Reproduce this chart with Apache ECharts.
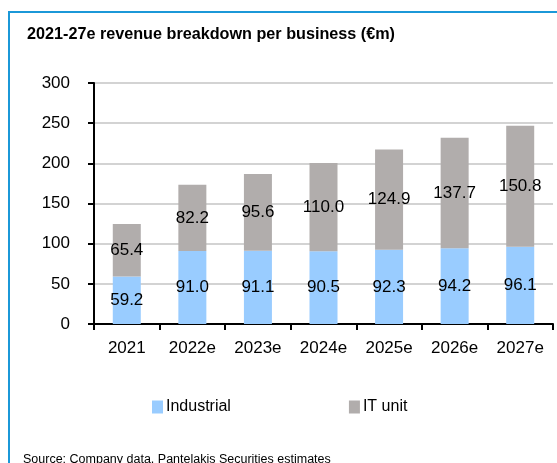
<!DOCTYPE html>
<html>
<head>
<meta charset="utf-8">
<script src="https://cdn.jsdelivr.net/npm/echarts@6/dist/echarts.min.js"></script>
<style>
html,body{margin:0;padding:0;background:#fff;}
#c{width:557px;height:463px;}
</style>
</head>
<body>
<div id="c"></div>
<script>
const categories = ['2021', '2022e', '2023e', '2024e', '2025e', '2026e', '2027e'];
const industrial = [59.2, 91.0, 91.1, 90.5, 92.3, 94.2, 96.1];
const itUnit = [65.4, 82.2, 95.6, 110.0, 124.9, 137.7, 150.8];
const yTicks = [0, 50, 100, 150, 200, 250, 300];

const FONT = "'Liberation Sans', Arial, sans-serif";
const chart = echarts.init(document.getElementById('c'), null, {renderer: 'canvas'});

const labelStyle = {
  show: true,
  position: 'inside',
  color: '#000',
  fontFamily: FONT,
  fontSize: 17,
  formatter: p => Number(p.value).toFixed(1)
};

chart.setOption({
  animation: false,
  backgroundColor: '#fff',
  title: {
    text: '2021-27e revenue breakdown per business (€m)',
    left: 22, top: 22,
    textStyle: {fontFamily: FONT, fontWeight: 'bold', fontSize: 16.2, color: '#000'}
  },
  graphic: [{
    type: 'rect',
    shape: {x: 9, y: 12, width: 700, height: 600},
    style: {fill: 'none', stroke: '#1b98d8', lineWidth: 2},
    silent: true
  }, {
    type: 'text',
    left: 23, top: 453,
    style: {text: 'Source: Company data, Pantelakis Securities estimates', fontFamily: FONT, fontSize: 12.5, fill: '#000'}
  }],
  legend: {
    data: ['Industrial', 'IT unit'],
    left: 147, top: 394,
    itemWidth: 11, itemHeight: 13,
    itemGap: 118,
    icon: 'rect',
    textStyle: {fontFamily: FONT, fontSize: 16, color: '#000', padding: [0, 0, 0, -2]}
  },
  grid: {left: 94, right: 4, top: 83, bottom: 139, containLabel: false},
  xAxis: {
    type: 'category',
    data: categories,
    axisLine: {lineStyle: {color: '#000', width: 2}},
    axisTick: {show: true, length: 6, lineStyle: {color: '#000', width: 2}},
    axisLabel: {fontFamily: FONT, fontSize: 17, color: '#000', margin: 16, interval: 0}
  },
  yAxis: {
    type: 'value',
    min: yTicks[0], max: yTicks[yTicks.length - 1], interval: 50,
    axisLine: {show: true, lineStyle: {color: '#000', width: 2}},
    axisTick: {show: true, length: 6, lineStyle: {color: '#000', width: 2}},
    axisLabel: {fontFamily: FONT, fontSize: 17, color: '#000', margin: 24},
    splitLine: {show: true, lineStyle: {color: '#d3d3d3', width: 2}}
  },
  series: [{
    name: 'Industrial',
    type: 'bar',
    stack: 'total',
    data: industrial,
    barWidth: 28,
    itemStyle: {color: '#99ccff'},
    label: labelStyle
  }, {
    name: 'IT unit',
    type: 'bar',
    stack: 'total',
    data: itUnit,
    barWidth: 28,
    itemStyle: {color: '#b1adac'},
    label: labelStyle
  }]
});
</script>
</body>
</html>
